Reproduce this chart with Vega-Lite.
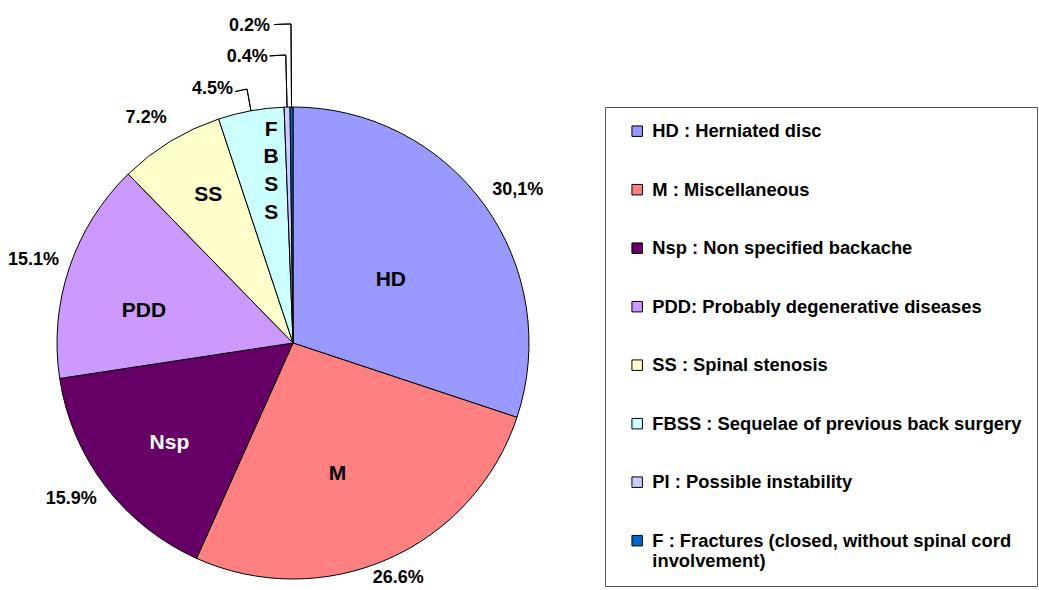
{
  "$schema": "https://vega.github.io/schema/vega-lite/v6.json",
  "width": 586,
  "height": 494,
  "autosize": {"type": "none"},
  "padding": {"left": 0, "top": 96, "right": 453, "bottom": 0},
  "background": "white",
  "config": {"view": {"stroke": null}, "font": "Liberation Sans"},
  "data": {
    "values": [
      {"order": 1, "code": "HD", "category": "HD : Herniated disc", "value": 30.1, "label": "30,1%"},
      {"order": 2, "code": "M", "category": "M : Miscellaneous", "value": 26.6, "label": "26.6%"},
      {"order": 3, "code": "Nsp", "category": "Nsp : Non specified backache", "value": 15.9, "label": "15.9%"},
      {"order": 4, "code": "PDD", "category": "PDD: Probably degenerative diseases", "value": 15.1, "label": "15.1%"},
      {"order": 5, "code": "SS", "category": "SS : Spinal stenosis", "value": 7.2, "label": "7.2%"},
      {"order": 6, "code": "FBSS", "category": "FBSS : Sequelae of previous back surgery", "value": 4.5, "label": "4.5%"},
      {"order": 7, "code": "PI", "category": "PI : Possible instability", "value": 0.4, "label": "0.4%"},
      {"order": 8, "code": "F", "category": "F : Fractures (closed, without spinal cord involvement)", "value": 0.2, "label": "0.2%"}
    ]
  },
  "transform": [
    {"stack": "value", "groupby": [], "sort": [{"field": "order", "order": "ascending"}], "as": ["start", "end"]},
    {"calculate": "(datum.start + datum.end) / 2", "as": "mid"}
  ],
  "layer": [
    {
      "mark": {"type": "arc", "radius": 236, "stroke": "#000", "strokeWidth": 1},
      "encoding": {
        "theta": {"field": "start", "type": "quantitative", "scale": {"domain": [0, 100]}},
        "theta2": {"field": "end"},
        "color": {
          "field": "category", "type": "nominal",
          "scale": {
            "domain": ["HD : Herniated disc", "M : Miscellaneous", "Nsp : Non specified backache", "PDD: Probably degenerative diseases", "SS : Spinal stenosis", "FBSS : Sequelae of previous back surgery", "PI : Possible instability", "F : Fractures (closed, without spinal cord involvement)"],
            "range": ["#9999FF", "#FF8080", "#660066", "#CC99FF", "#FFFFCC", "#CCFFFF", "#CCCCFF", "#0066CC"]
          },
          "legend": {
            "title": null, "orient": "none", "legendX": 605, "legendY": 11, "direction": "vertical",
            "symbolType": "square", "symbolSize": 110, "symbolStrokeColor": "#000", "symbolStrokeWidth": 1, "symbolOpacity": 1,
            "labelFont": "Liberation Sans", "labelFontWeight": "bold", "labelFontSize": 18.35, "labelColor": "#000",
            "labelLimit": 600, "labelOffset": 6, "rowPadding": 39.5, "padding": 15, "symbolOffset": 8,
            "strokeColor": "#555", "fillColor": "#fff", "labelLineHeight": 22,
            "labelExpr": "datum.label == 'F : Fractures (closed, without spinal cord involvement)' ? ['F : Fractures (closed, without spinal cord', 'involvement)'] : datum.label"
          }
        }
      }
    },
    {
      "transform": [{"filter": "datum.code == 'HD'"}],
      "mark": {"type": "text", "radius": 117, "dx": 3, "dy": 5, "fontSize": 21, "fontWeight": "bold", "color": "#000"},
      "encoding": {"theta": {"field": "mid", "type": "quantitative"}, "text": {"field": "code"}}
    },
    {
      "transform": [{"filter": "datum.code == 'M'"}],
      "mark": {"type": "text", "radius": 138, "dx": -11, "dy": 5, "fontSize": 21, "fontWeight": "bold", "color": "#000"},
      "encoding": {"theta": {"field": "mid", "type": "quantitative"}, "text": {"field": "code"}}
    },
    {
      "transform": [{"filter": "datum.code == 'PDD'"}],
      "mark": {"type": "text", "radius": 152, "dx": -5, "dy": 16, "fontSize": 21, "fontWeight": "bold", "color": "#000"},
      "encoding": {"theta": {"field": "mid", "type": "quantitative"}, "text": {"field": "code"}}
    },
    {
      "transform": [{"filter": "datum.code == 'Nsp'"}],
      "mark": {"type": "text", "radius": 159, "dx": 3, "dy": 4, "fontSize": 21, "fontWeight": "bold", "color": "#fff"},
      "encoding": {"theta": {"field": "mid", "type": "quantitative"}, "text": {"field": "code"}}
    },
    {
      "transform": [{"filter": "datum.code == 'SS'"}],
      "mark": {"type": "text", "radius": 169, "dx": 3, "dy": -4, "fontSize": 21, "fontWeight": "bold", "color": "#000"},
      "encoding": {"theta": {"field": "mid", "type": "quantitative"}, "text": {"field": "code"}}
    },
    {
      "transform": [{"filter": "datum.code == 'FBSS'"}, {"calculate": "split(datum.code, '')", "as": "letters"}],
      "mark": {"type": "text", "radius": 173, "dx": 9, "dy": -43, "fontSize": 21, "fontWeight": "bold", "color": "#000", "lineHeight": 27.7},
      "encoding": {"theta": {"field": "mid", "type": "quantitative"}, "text": {"field": "letters"}}
    },
    {
      "transform": [{"filter": "datum.code == 'HD'"}],
      "mark": {"type": "text", "radius": 271, "dx": 5, "dy": 5.5, "fontSize": 18, "fontWeight": "bold", "color": "#000"},
      "encoding": {"theta": {"field": "mid", "type": "quantitative"}, "text": {"field": "label"}}
    },
    {
      "transform": [{"filter": "datum.code == 'M'"}],
      "mark": {"type": "text", "radius": 256, "dx": 2, "dy": 1, "fontSize": 18, "fontWeight": "bold", "color": "#000"},
      "encoding": {"theta": {"field": "mid", "type": "quantitative"}, "text": {"field": "label"}}
    },
    {
      "transform": [{"filter": "datum.code == 'Nsp'"}],
      "mark": {"type": "text", "radius": 271, "dx": -6, "dy": -8, "fontSize": 18, "fontWeight": "bold", "color": "#000"},
      "encoding": {"theta": {"field": "mid", "type": "quantitative"}, "text": {"field": "label"}}
    },
    {
      "transform": [{"filter": "datum.code == 'PDD'"}],
      "mark": {"type": "text", "radius": 271, "dx": -2.5, "dy": 3, "fontSize": 18, "fontWeight": "bold", "color": "#000"},
      "encoding": {"theta": {"field": "mid", "type": "quantitative"}, "text": {"field": "label"}}
    },
    {
      "transform": [{"filter": "datum.code == 'SS'"}],
      "mark": {"type": "text", "radius": 271, "dx": -6, "dy": 7, "fontSize": 18, "fontWeight": "bold", "color": "#000"},
      "encoding": {"theta": {"field": "mid", "type": "quantitative"}, "text": {"field": "label"}}
    },
    {
      "transform": [{"filter": "datum.code == 'FBSS'"}],
      "mark": {"type": "arc", "radius": 236, "radius2": 258, "stroke": "#000", "strokeWidth": 1, "fillOpacity": 0},
      "encoding": {"theta": {"field": "mid", "type": "quantitative"}, "theta2": {"field": "mid"}}
    },
    {
      "transform": [{"filter": "datum.code == 'FBSS'"}],
      "mark": {"type": "arc", "radius": 258, "radius2": 258, "thetaOffset": -0.047, "stroke": "#000", "strokeWidth": 1, "fillOpacity": 0},
      "encoding": {"theta": {"field": "mid", "type": "quantitative"}, "theta2": {"field": "mid"}}
    },
    {
      "transform": [{"filter": "datum.code == 'FBSS'"}],
      "mark": {"type": "text", "radius": 258, "dx": -14, "align": "right", "baseline": "middle", "fontSize": 18, "fontWeight": "bold", "color": "#000"},
      "encoding": {"theta": {"field": "mid", "type": "quantitative"}, "text": {"field": "label"}}
    },
    {
      "transform": [{"filter": "datum.code == 'PI'"}],
      "mark": {"type": "arc", "radius": 236, "radius2": 288, "stroke": "#000", "strokeWidth": 1, "fillOpacity": 0},
      "encoding": {"theta": {"field": "mid", "type": "quantitative"}, "theta2": {"field": "mid"}}
    },
    {
      "transform": [{"filter": "datum.code == 'PI'"}],
      "mark": {"type": "arc", "radius": 288, "radius2": 288, "thetaOffset": -0.0556, "stroke": "#000", "strokeWidth": 1, "fillOpacity": 0},
      "encoding": {"theta": {"field": "mid", "type": "quantitative"}, "theta2": {"field": "mid"}}
    },
    {
      "transform": [{"filter": "datum.code == 'PI'"}],
      "mark": {"type": "text", "radius": 288, "dx": -18, "dy": 2, "align": "right", "baseline": "middle", "fontSize": 18, "fontWeight": "bold", "color": "#000"},
      "encoding": {"theta": {"field": "mid", "type": "quantitative"}, "text": {"field": "label"}}
    },
    {
      "transform": [{"filter": "datum.code == 'F'"}],
      "mark": {"type": "arc", "radius": 236, "radius2": 319, "stroke": "#000", "strokeWidth": 1, "fillOpacity": 0},
      "encoding": {"theta": {"field": "mid", "type": "quantitative"}, "theta2": {"field": "mid"}}
    },
    {
      "transform": [{"filter": "datum.code == 'F'"}],
      "mark": {"type": "arc", "radius": 319, "radius2": 319, "thetaOffset": -0.0533, "stroke": "#000", "strokeWidth": 1, "fillOpacity": 0},
      "encoding": {"theta": {"field": "mid", "type": "quantitative"}, "theta2": {"field": "mid"}}
    },
    {
      "transform": [{"filter": "datum.code == 'F'"}],
      "mark": {"type": "text", "radius": 319, "dx": -21, "dy": 2, "align": "right", "baseline": "middle", "fontSize": 18, "fontWeight": "bold", "color": "#000"},
      "encoding": {"theta": {"field": "mid", "type": "quantitative"}, "text": {"field": "label"}}
    }
  ]
}
